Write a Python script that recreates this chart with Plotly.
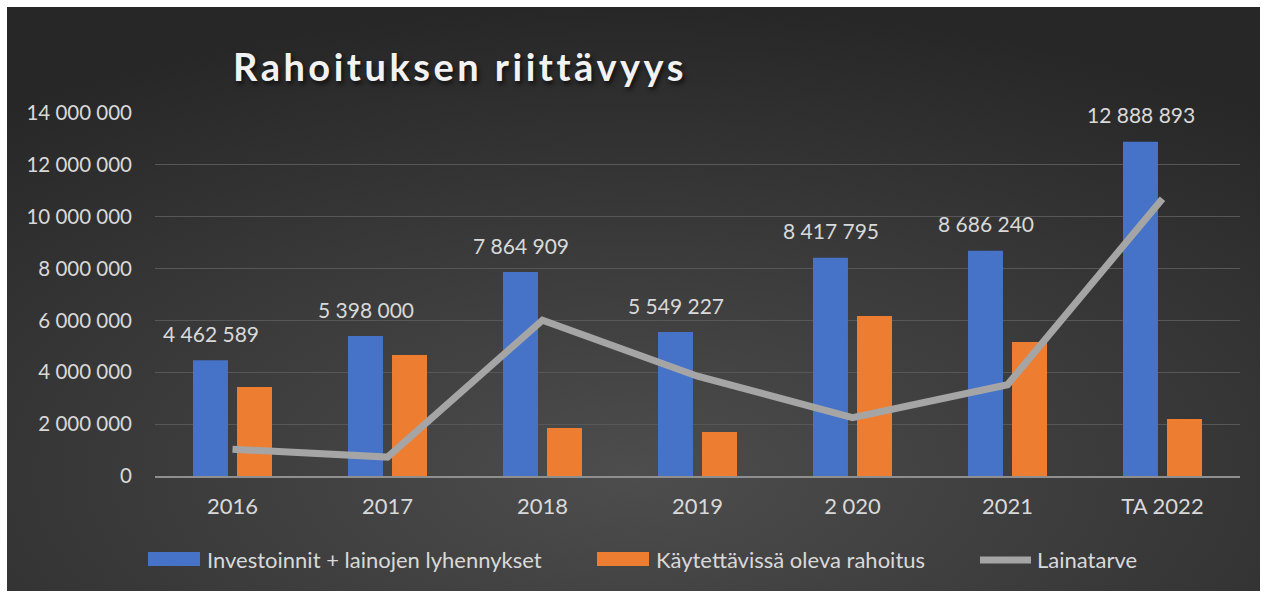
import base64
import plotly.graph_objects as go

categories = ["2016", "2017", "2018", "2019", "2 020", "2021", "TA 2022"]
investoinnit = [4462589, 5398000, 7864909, 5549227, 8417795, 8686240, 12888893]
rahoitus = [3430000, 4670000, 1850000, 1700000, 6170000, 5170000, 2200000]
lainatarve = [1030000, 730000, 6010000, 3850000, 2250000, 3520000, 10690000]
y_ticks = [0, 2000000, 4000000, 6000000, 8000000, 10000000, 12000000, 14000000]

names = ["Investoinnit + lainojen lyhennykset", "Käytettävissä oleva rahoitus", "Lainatarve"]
title_text = "Rahoituksen riittävyys"

W, H = 1267, 594
L, R, T, B = 155, 1240, 113, 476
FONT = "Lato"
TXT = "#d9d9d9"
BLUE = "#4673c8"
ORANGE = "#ed7d31"
GRAY = "#a5a5a5"


def px(x):
    return (x - L) / (R - L)


def py(y):
    return (B - y) / (B - T)


svg = (
    "<svg xmlns='http://www.w3.org/2000/svg' width='1253' height='584' viewBox='0 0 1253 584' preserveAspectRatio='none'>"
    "<defs><radialGradient id='g' cx='0.5' cy='0.8' r='0.8'>"
    "<stop offset='0' stop-color='#4d4d4d'/><stop offset='1' stop-color='#272727'/>"
    "</radialGradient></defs><rect width='1253' height='584' fill='url(#g)'/></svg>"
)
bg_src = "data:image/svg+xml;base64," + base64.b64encode(svg.encode()).decode()

fig = go.Figure()
fig.add_trace(go.Bar(x=categories, y=investoinnit, name=names[0], marker=dict(color=BLUE, line=dict(width=0)),
                     showlegend=False))
fig.add_trace(go.Bar(x=categories, y=rahoitus, name=names[1], marker=dict(color=ORANGE, line=dict(width=0)),
                     showlegend=False))
fig.add_trace(go.Scatter(x=categories, y=lainatarve, name=names[2], mode="lines",
                         line=dict(color=GRAY, width=7), showlegend=False))

annotations = []
for i, v in enumerate(investoinnit):
    annotations.append(dict(x=i, y=v, xref="x", yref="y", text=f"{v:,}".replace(",", " "),
                            showarrow=False, xshift=-22, yshift=27, yanchor="middle",
                            font=dict(family=FONT, size=21, color=TXT)))

# custom legend
shapes = []
leg_y = 559
legend_items = [
    (148, 200, 205, "rect", BLUE, names[0]),
    (597, 649, 654, "rect", ORANGE, names[1]),
    (977, 1034, 1035, "line", GRAY, names[2]),
]
for x0, x1, xt, kind, col, label in legend_items:
    if kind == "rect":
        shapes.append(dict(type="rect", xref="paper", yref="paper", x0=px(x0), x1=px(x1),
                           y0=py(leg_y - 7), y1=py(leg_y + 7), fillcolor=col, line=dict(width=0), layer="above"))
    else:
        shapes.append(dict(type="line", xref="paper", yref="paper", x0=px(x0 + 3), x1=px(x1 - 3),
                           y0=py(leg_y + 1), y1=py(leg_y + 1), line=dict(color=col, width=7), layer="above"))
    annotations.append(dict(x=px(xt), y=py(leg_y), xref="paper", yref="paper", text=label, showarrow=False,
                            xanchor="left", yanchor="middle", font=dict(family=FONT, size=22, color=TXT)))

fig.update_layout(
    width=W, height=H,
    margin=dict(l=L, r=W - R, t=T, b=H - B, pad=0),
    paper_bgcolor="white",
    plot_bgcolor="rgba(0,0,0,0)",
    separators=", ",
    barmode="group",
    bargap=0.432,
    bargroupgap=0.205,
    title=dict(text=title_text, x=px(233), xref="paper", xanchor="left", y=1 - 68 / H, yref="container",
               yanchor="middle",
               font=dict(family=FONT, size=38, color="#f2f2f2", weight="bold", shadow="2px 3px 4px #111")),
    images=[dict(source=bg_src, xref="paper", yref="paper", x=px(7), y=py(7), sizex=px(1260) - px(7),
                 sizey=py(7) - py(591), xanchor="left", yanchor="top", sizing="stretch", layer="below")],
    xaxis=dict(type="category", range=[-0.5, 6.5], showgrid=False, zeroline=False, showline=True,
               linecolor="#8f8f8f", linewidth=2,
               ticks="", tickfont=dict(family=FONT, size=22, color=TXT), ticklabelstandoff=10),
    yaxis=dict(range=[0, 14000000], tickvals=y_ticks, tickformat=",d", showgrid=True, gridcolor="#575757",
               gridwidth=1, zeroline=False, showline=False, ticks="",
               tickfont=dict(family=FONT, size=20.5, color=TXT), ticklabelstandoff=22),
    annotations=annotations,
    shapes=shapes,
    showlegend=False,
)

post = (
    "var s=document.createElement('style');"
    "s.textContent='html,body{margin:0;padding:0;overflow:hidden} .gtitle{letter-spacing:3.5px}';"
    "document.head.appendChild(s);"
)
fig.write_html("out.html", post_script=post, config={"displayModeBar": False})
